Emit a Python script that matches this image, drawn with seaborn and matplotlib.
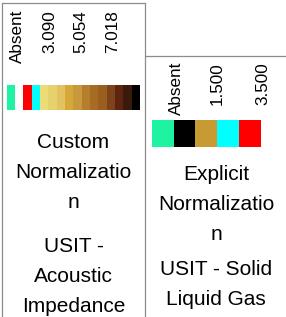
import numpy as np
import matplotlib.pyplot as plt
import matplotlib.transforms as mtransforms
from matplotlib.colors import ListedColormap
from matplotlib import font_manager
import seaborn as sns

# ---- legend data ----
# custom normalization: absent swatch, an empty slot, under/over colours, then the ramp
custom_colors = ["#1DF3A0", "#FFFFFF", "#FF0000", "#00FFFF",
                 "#ECDC78", "#E6D26C", "#E2C360", "#D6A83A", "#C8983C", "#B67E2C",
                 "#A66C24", "#9A5E20", "#7C4418", "#5E2410", "#3A1A0A", "#000000"]
custom_blank = [1]
custom_labels = ["Absent", "3.090", "5.054", "7.018"]
custom_title = "Custom\nNormalizatio\nn"
custom_name = "USIT -\nAcoustic\nImpedance"

# explicit normalization: one swatch per class
explicit_colors = ["#1DF3A0", "#000000", "#C89A34", "#00FFFF", "#FF0000"]
explicit_labels = ["Absent", "1.500", "3.500"]
explicit_title = "Explicit\nNormalizatio\nn"
explicit_name = "USIT - Solid\nLiquid Gas"

# where the labels sit along each bar (in swatch units)
custom_label_x = [1.35, 5.15, 8.95, 12.75]
explicit_label_x = [1.15, 3.0, 5.1]

sns.set_style("white")
names = {f.name for f in font_manager.fontManager.ttflist}
narrow = "Liberation Sans Narrow" in names
family = "Liberation Sans Narrow" if narrow else "Liberation Sans"
plt.rcParams["font.family"] = [family, "DejaVu Sans"]
plt.rcParams["text.color"] = "black"
lab_size = 15 if narrow else 12.3
cap_size = 18 if narrow else 15
cap_ls = 1.5 if narrow else 1.75

W, H = 286, 317
fig = plt.figure(figsize=(W / 100, H / 100), dpi=100)
fig.patch.set_facecolor("white")


def px(x0, y0, x1, y1):
    # pixel box (top-left origin) -> figure fraction rect
    return [x0 / W, 1 - y1 / H, (x1 - x0) / W, (y1 - y0) / H]


def swatches(rect, colors, blank):
    ax = fig.add_axes(rect)
    vals = np.arange(len(colors), dtype=float).reshape(1, -1)
    mask = np.zeros_like(vals, dtype=bool)
    for b in blank:
        mask[0, b] = True
    sns.heatmap(vals, mask=mask, cmap=ListedColormap(colors), vmin=-0.5,
                vmax=len(colors) - 0.5, cbar=False, xticklabels=False,
                yticklabels=False, ax=ax)
    for s in ax.spines.values():
        s.set_visible(False)
    return ax


def labels(ax, xs, texts, top_px):
    tr = mtransforms.blended_transform_factory(ax.transData, fig.transFigure)
    for x, t in zip(xs, texts):
        fig.text(x, 1 - top_px / H, t, transform=tr, rotation=90,
                 ha="center", va="top", fontsize=lab_size)


# boxes around the two legends
border = "#8C8C8C"
fig.add_artist(plt.Line2D([2 / W, 2 / W], [0, 1 - 3 / H], color=border, lw=0.9))
fig.add_artist(plt.Line2D([2 / W, 145 / W], [1 - 3 / H, 1 - 3 / H], color=border, lw=0.9))
fig.add_artist(plt.Line2D([145 / W, 145 / W], [0, 1 - 3 / H], color=border, lw=0.9))
fig.add_artist(plt.Line2D([145 / W, 1], [1 - 56 / H, 1 - 56 / H], color=border, lw=0.9))

ax1 = swatches(px(6.7, 85, 140, 110), custom_colors, custom_blank)
labels(ax1, custom_label_x, custom_labels, 10)

ax2 = swatches(px(151.7, 120, 260.7, 147), explicit_colors, [])
labels(ax2, explicit_label_x, explicit_labels, 62)

# baseline of the last line of each caption block
for x, y, t in [(73.5, 208, custom_title), (73.5, 312, custom_name),
                (216, 240, explicit_title), (216, 305, explicit_name)]:
    fig.text(x / W, 1 - y / H, t, ha="center", va="baseline",
             fontsize=cap_size, linespacing=cap_ls)

fig.savefig("out.png", dpi=100)
